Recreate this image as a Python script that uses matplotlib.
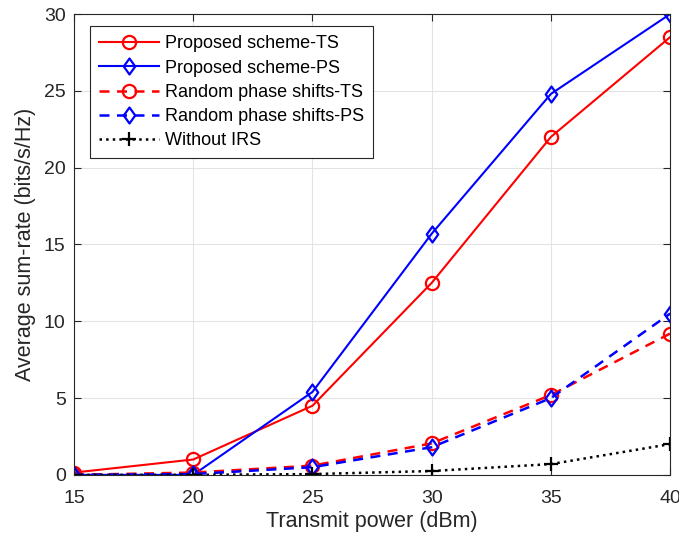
import matplotlib as mpl
mpl.use('Agg')
import matplotlib.pyplot as plt
from matplotlib.path import Path

power = [15, 20, 25, 30, 35, 40]
prop_ts = [0.15, 1.0, 4.5, 12.5, 22.0, 28.5]
prop_ps = [0.0, 0.0, 5.4, 15.7, 24.8, 30.0]
rand_ts = [0.0, 0.15, 0.6, 2.05, 5.2, 9.2]
rand_ps = [0.0, 0.05, 0.5, 1.8, 5.0, 10.5]
no_irs = [0.0, 0.0, 0.05, 0.25, 0.7, 2.0]

plt.rcParams['font.family'] = ['Liberation Sans', 'DejaVu Sans']

# MATLAB-like diamond (wider than matplotlib's 'd')
diamond = Path([(0, 1), (0.72, 0), (0, -1), (-0.72, 0), (0, 1)],
               [Path.MOVETO, Path.LINETO, Path.LINETO, Path.LINETO, Path.CLOSEPOLY])

fig = plt.figure(figsize=(6.79, 5.39), dpi=100)
ax = fig.add_axes([0.109, 0.119, 0.878, 0.855])

ax.plot(power, prop_ts, 'r-', marker='o', ms=9.5, mfc='none', mew=1.6, lw=1.5, label='Proposed scheme-TS')
ax.plot(power, prop_ps, 'b-', marker=diamond, ms=11.5, mfc='none', mew=1.6, lw=1.5, label='Proposed scheme-PS')
ax.plot(power, rand_ts, 'r--', marker='o', ms=9.5, mfc='none', mew=1.6, lw=1.8, dashes=(4, 3), label='Random phase shifts-TS')
ax.plot(power, rand_ps, 'b--', marker=diamond, ms=11.5, mfc='none', mew=1.6, lw=1.8, dashes=(4, 3), label='Random phase shifts-PS')
ax.plot(power, no_irs, 'k:', marker='+', ms=10, mew=1.6, lw=1.8, label='Without IRS')

ax.set_xlim(15, 40)
ax.set_ylim(0, 30)
ax.set_xticks(power)
ax.set_yticks([0, 5, 10, 15, 20, 25, 30])
ax.grid(True, color='#e3e3e3', lw=0.8)
ax.tick_params(direction='in', labelsize=14, colors='#262626', top=True, right=True, length=5)
ax.tick_params(axis='x', pad=11)
ax.tick_params(axis='y', pad=6)
for s in ax.spines.values():
    s.set_color('#262626')
    s.set_linewidth(0.8)
ax.set_xlabel('Transmit power (dBm)', fontsize=15.5, color='#262626', labelpad=3)
ax.set_ylabel('Average sum-rate (bits/s/Hz)', fontsize=15.5, color='#262626', labelpad=6)

leg = ax.legend(loc='upper left', bbox_to_anchor=(0.027, 0.973), fontsize=13, fancybox=False,
                framealpha=1, edgecolor='#262626', handlelength=3.3, borderpad=0.5,
                labelspacing=0.4, handletextpad=0.35, borderaxespad=0)
leg.get_frame().set_linewidth(0.8)

fig.savefig('out.png', dpi=100)
